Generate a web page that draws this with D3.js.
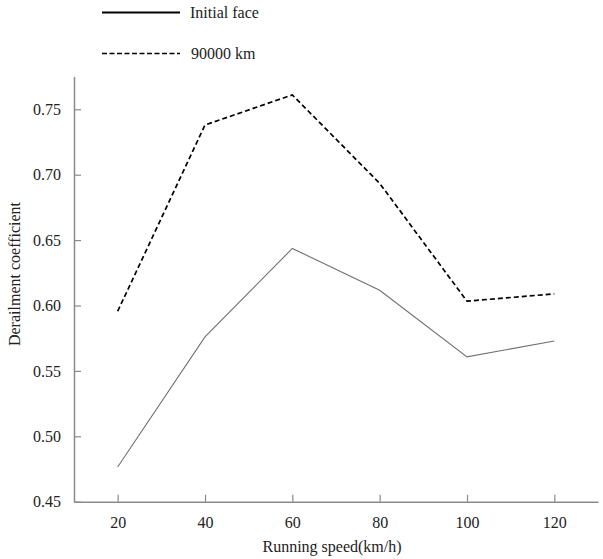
<!DOCTYPE html>
<html><head><meta charset="utf-8">
<script src="https://cdn.jsdelivr.net/npm/d3@7"></script>
<style>body{margin:0;background:#fff}svg{display:block}</style>
</head><body><svg id="c" width="603" height="559"></svg>
<script>
const speeds = [20, 40, 60, 80, 100, 120];
const initialFace = [0.4765, 0.576, 0.6436, 0.6117, 0.5607, 0.5729];
const km90000 = [0.5956, 0.738, 0.761, 0.6934, 0.6033, 0.6089];
const yTicks = [0.50, 0.55, 0.60, 0.65, 0.70, 0.75];
const seriesNames = ["Initial face", "90000 km"];

const FONT = "'Liberation Serif', 'Times New Roman', serif";
const svg = d3.select("#c").attr("font-family", FONT);
const x = d3.scaleLinear().domain([10, 130]).range([74, 598]);
const y = d3.scaleLinear().domain([0.45, 0.775]).range([501.7, 76.6]);

// y axis
const ya = svg.append("g").attr("transform", `translate(${x(10)},0)`)
  .call(d3.axisLeft(y).tickValues([0.45].concat(yTicks)).tickFormat(d3.format(".2f")).tickSize(-7).tickPadding(13).tickSizeOuter(0));
ya.attr("font-family", FONT).attr("font-size", 16);
ya.select(".domain").attr("stroke", "#8a8a8a").attr("stroke-width", 1.5);
ya.selectAll(".tick line").attr("stroke", "#8a8a8a").attr("stroke-width", 1.2);
ya.selectAll(".tick text").attr("fill", "#222");

// x axis
const xa = svg.append("g").attr("transform", `translate(0,${y(0.45)})`)
  .call(d3.axisBottom(x).tickValues(speeds).tickSize(-7).tickPadding(15).tickSizeOuter(0));
xa.attr("font-family", FONT).attr("font-size", 16);
xa.select(".domain").attr("stroke", "#8a8a8a").attr("stroke-width", 1.5);
xa.selectAll(".tick line").attr("stroke", "#8a8a8a").attr("stroke-width", 1.2);
xa.selectAll(".tick text").attr("fill", "#222");

// titles
svg.append("text").attr("x", 332).attr("y", 552).attr("text-anchor", "middle")
  .attr("font-size", 16).attr("fill", "#222").text("Running speed(km/h)");
svg.append("text").attr("transform", "translate(20,274) rotate(-90)").attr("text-anchor", "middle")
  .attr("font-size", 16).attr("fill", "#222").text("Derailment coefficient");

const line = d3.line().x((d, i) => x(speeds[i])).y(d => y(d));
svg.append("path").datum(initialFace).attr("d", line).attr("fill", "none")
  .attr("stroke", "#707070").attr("stroke-width", 1.1);
svg.append("path").datum(km90000).attr("d", line).attr("fill", "none")
  .attr("stroke", "#000").attr("stroke-width", 1.7).attr("stroke-dasharray", "5,3");

// legend
const lg = svg.append("g");
lg.append("line").attr("x1", 102).attr("x2", 180).attr("y1", 12.5).attr("y2", 12.5)
  .attr("stroke", "#000").attr("stroke-width", 2.2);
lg.append("text").attr("x", 190).attr("y", 17.5).attr("font-size", 16).attr("fill", "#222").text(seriesNames[0]);
lg.append("line").attr("x1", 102).attr("x2", 180).attr("y1", 53.5).attr("y2", 53.5)
  .attr("stroke", "#000").attr("stroke-width", 1.4).attr("stroke-dasharray", "5,2.5");
lg.append("text").attr("x", 191).attr("y", 58.5).attr("font-size", 16).attr("fill", "#222").text(seriesNames[1]);
</script></body></html>
